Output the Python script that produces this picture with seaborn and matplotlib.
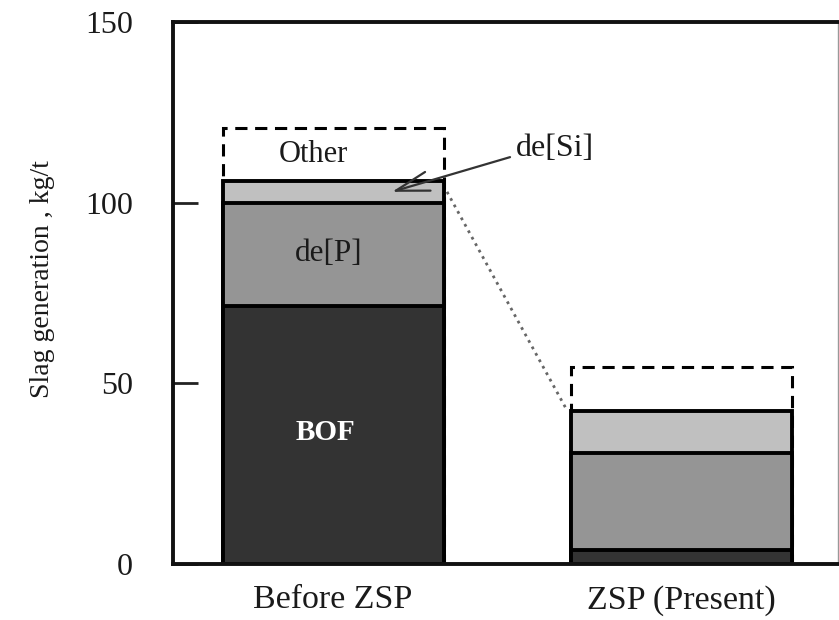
import numpy as np
import pandas as pd
import matplotlib
matplotlib.use("Agg")
import matplotlib.pyplot as plt
import seaborn as sns

# ---- data ----
categories = ["Before ZSP", "ZSP (Present)"]
bof = [71.5, 3.9]
dep = [28.5, 26.8]
desi = [6.0, 11.6]
other = [14.7, 12.2]
yticks = [0, 50, 100, 150]
ylabel = "Slag generation , kg/t"
seg_labels = {"other": "Other", "dep": "de[P]", "bof": "BOF", "desi": "de[Si]"}

sns.set_style("white")
plt.rcParams["font.family"] = ["Liberation Serif", "DejaVu Serif"]
plt.rcParams["text.color"] = "#1a1a1a"

c_bof = np.array(bof)
c_dep = c_bof + np.array(dep)
c_si = c_dep + np.array(desi)
c_oth = c_si + np.array(other)

df = pd.DataFrame({"cat": categories, "bof": c_bof, "dep": c_dep,
                   "si": c_si, "oth": c_oth})

fig = plt.figure(figsize=(8.39, 6.20), dpi=100)
ax = fig.add_axes([173 / 839, 1 - 564 / 620, (838 - 173) / 839, (564 - 22) / 620])

W = 0.634
common = dict(data=df, x="cat", width=W, saturation=1, ax=ax, edgecolor="black")
sns.barplot(y="oth", color="white", linewidth=2.2, linestyle=(0, (4, 2.5)), **common)
sns.barplot(y="si", color="#c0c0c0", linewidth=2.8, **common)
sns.barplot(y="dep", color="#959595", linewidth=2.8, **common)
sns.barplot(y="bof", color="#333333", linewidth=2.8, **common)

ax.set_xlim(-0.46, 1.45)
ax.set_ylim(0, 150)
ax.set_yticks(yticks)
ax.set_yticklabels([str(t) for t in yticks], fontsize=23, color="#1a1a1a")
ax.tick_params(axis="y", direction="in", length=18, width=2, color="#222222", pad=29, left=True)
ax.tick_params(axis="x", length=0, pad=15, labelsize=24.5, labelcolor="#1a1a1a")
ax.set_xlabel("")
ax.set_ylabel(ylabel, fontsize=20, color="#1a1a1a")
ax.yaxis.set_label_coords(-0.177, 0.525)

for side in ["left", "top", "bottom"]:
    ax.spines[side].set_linewidth(2.8)
    ax.spines[side].set_color("#111111")
ax.spines["right"].set_linewidth(1)
ax.spines["right"].set_color("#999999")

# segment labels
ax.text(-0.058, (c_si[0] + c_oth[0]) / 2, seg_labels["other"], ha="center", va="center", fontsize=22)
ax.text(-0.014, 86, seg_labels["dep"], ha="center", va="center", fontsize=22.5)
ax.text(-0.023, 36.5, seg_labels["bof"], ha="center", va="center", fontsize=21,
        color="white", fontweight="bold")
ax.text(0.637, 115, seg_labels["desi"], ha="center", va="center", fontsize=23)

# arrow to de[Si] segment
si_mid0 = (c_dep[0] + c_si[0]) / 2
ax.annotate("", xy=(0.169, si_mid0), xytext=(0.508, 112.6),
            arrowprops=dict(arrowstyle="->,head_length=1.2,head_width=0.35",
                            mutation_scale=20, lw=1.6, color="#333333",
                            shrinkA=0, shrinkB=0))

# dotted connector
ax.plot([W / 2 + 0.01, 1 - W / 2 - 0.01], [si_mid0, c_si[1]], linestyle=":",
        color="#666666", lw=2)

fig.savefig("out.png", dpi=100)
